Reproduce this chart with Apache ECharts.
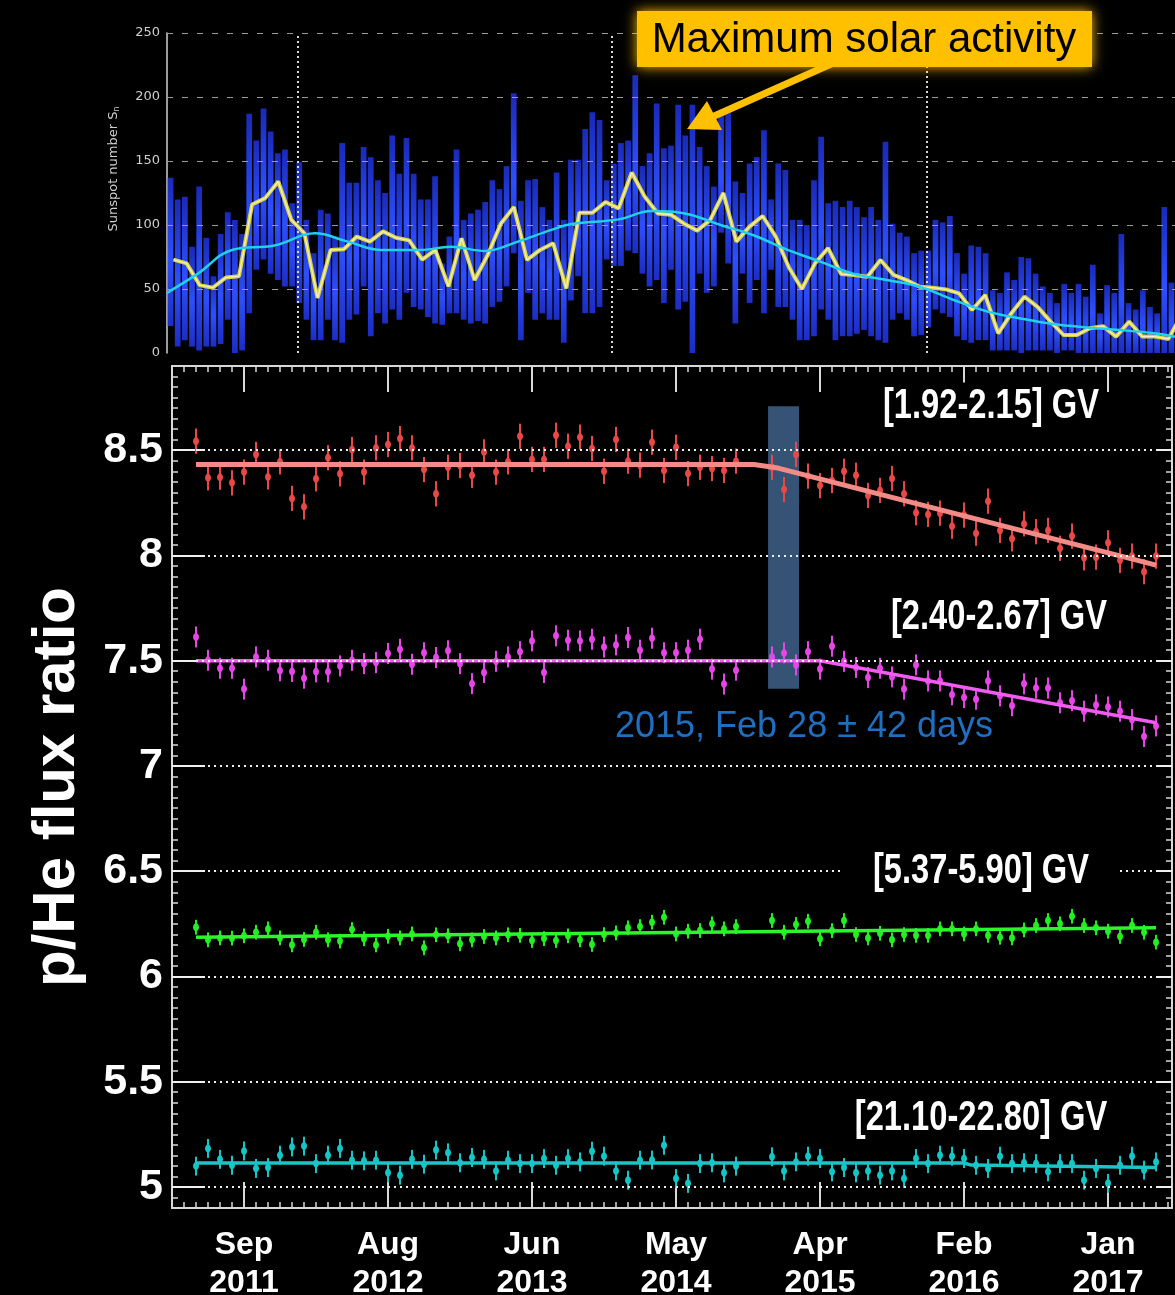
<!DOCTYPE html>
<html>
<head>
<meta charset="utf-8">
<script src="https://cdn.jsdelivr.net/npm/echarts@6/dist/echarts.min.js"></script>
<style>
  html, body { margin: 0; padding: 0; background: #000; }
  #chart { width: 1175px; height: 1295px; }
</style>
</head>
<body>
<div id="chart"></div>
<script>
// ---------- Sunspot panel (x in months since Jan 2011) ----------
const sunspotMonthStart = 2;            // first monthly value: March 2011
const sunspotMonthly = [
  73, 70, 53, 51, 59, 60, 116, 121, 134, 104,
  93.5, 43, 80.5, 81, 91, 87, 95, 90, 88, 73, 80.5, 52,
  89.6, 57, 76.6, 101, 114, 72.7, 80.5, 85.7, 50.5, 109.6, 109.6, 118,
  113, 141, 122, 109, 108, 101, 95.6, 104, 125, 87, 98.7, 107,
  91, 67, 50, 70, 82, 61.7, 61, 59.6, 72.7, 61, 57, 51.8,
  51, 49.7, 46.6, 33.6, 45.3, 15.4, 31, 44, 36, 24.5, 14, 14,
  19.3, 21, 12.8, 24.5, 12.8, 12.8, 11, 30
];
const smoothedMonth = [2.0, 4.36, 6.96, 10.2, 13.3, 15.8, 18.4, 21.3, 23.7, 26.3, 28.8, 31.3, 32.9, 36.5, 39.0, 40.7,
  42.0, 44.3, 46.8, 49.4, 51.9, 54.4, 57.0, 59.5, 62.1, 64.7, 67.2, 69.7, 72.3, 74.8, 77.4, 79.0];
const smoothedValue = [47, 62, 80.5, 84, 93.5, 87, 80.5, 80.5, 83, 79.7, 87, 96, 100.8, 104.4, 111, 110.4,
  108, 100, 92, 80.5, 71.4, 62, 57, 51.8, 41.4, 32.3, 27, 22.7, 20, 18, 15.4, 12.7];
// daily spread of the sunspot number, binned (~17 days per bin)
const sunspotBinStart = 2;
const sunspotBinWidth = 77 / 141;
const sunspotLow = [
  21, 5, 10, 5, 2, 5, 5, 7, 26, 0,
  2, 31, 65, 73, 62, 57, 52, 52, 39, 26,
  10, 10, 26, 10, 8, 26, 30, 52, 13, 31,
  23, 34, 26, 47, 36, 34, 28, 23, 22, 31,
  31, 26, 23, 25, 23, 36, 40, 52, 78, 10,
  47, 26, 31, 26, 26, 8, 41, 60, 31, 31,
  36, 73, 68, 68, 80, 78, 62, 52, 57, 39,
  65, 34, 40, 0, 62, 47, 52, 94, 70, 23,
  62, 39, 57, 31, 65, 36, 36, 26, 10, 10,
  13, 34, 26, 10, 13, 13, 15, 18, 13, 10,
  8, 26, 31, 26, 13, 14, 20, 34, 31, 28,
  13, 10, 8, 10, 10, 2, 2, 2, 2, 0,
  2, 2, 2, 2, 0, 2, 2, 0, 0, 0,
  0, 0, 0, 0, 0, 0, 0, 0, 0, 0,
  0
];
const sunspotHigh = [
  137, 120, 122, 83, 130, 90, 60, 93, 110, 104,
  93, 187, 166, 191, 173, 156, 159, 117, 149, 104,
  78, 112, 109, 91, 164, 133, 133, 161, 153, 135,
  125, 170, 140, 168, 140, 120, 120, 138, 70, 91,
  159, 104, 109, 112, 118, 135, 128, 146, 203, 119,
  135, 136, 114, 104, 141, 104, 151, 151, 175, 188,
  182, 135, 148, 164, 166, 217, 146, 156, 195, 160,
  162, 194, 170, 194, 161, 146, 130, 190, 188, 134,
  125, 148, 153, 174, 120, 148, 143, 104, 104, 100,
  135, 169, 117, 119, 114, 119, 114, 106, 114, 104,
  165, 101, 94, 91, 78, 80, 80, 104, 102, 107,
  78, 62, 84, 83, 78, 49, 47, 63, 57, 75,
  74, 62, 52, 47, 39, 54, 47, 54, 44, 69,
  31, 53, 47, 93, 39, 34, 49, 36, 31, 114,
  55
];
const sunspotYearMarks = [12, 36, 60];   // Jan 2012, Jan 2014, Jan 2016

// ---------- p/He panel (x in Bartels rotations) ----------
const rotations = [
  2426, 2427, 2428, 2429, 2430, 2431, 2432, 2433, 2434, 2435, 2436, 2437, 2438, 2439, 2440,
  2441, 2442, 2443, 2444, 2445, 2446, 2447, 2448, 2449, 2450, 2451, 2452, 2453, 2454, 2455,
  2456, 2457, 2458, 2459, 2460, 2461, 2462, 2463, 2464, 2465, 2466, 2467, 2468, 2469, 2470,
  2471, 2474, 2475, 2476, 2477, 2478, 2479, 2480, 2481, 2482, 2483, 2484, 2485, 2486, 2487,
  2488, 2489, 2490, 2491, 2492, 2493, 2494, 2495, 2496, 2497, 2498, 2499, 2500, 2501, 2502,
  2503, 2504, 2505, 2506
];
const ratio192 = [
  8.543, 8.369, 8.372, 8.345, 8.396, 8.480, 8.373, 8.445, 8.271, 8.231, 8.364, 8.464, 8.388, 8.503, 8.396,
  8.511, 8.527, 8.555, 8.511, 8.408, 8.293, 8.419, 8.427, 8.381, 8.492, 8.396, 8.445, 8.566, 8.456, 8.456,
  8.571, 8.519, 8.562, 8.508, 8.400, 8.551, 8.448, 8.429, 8.538, 8.404, 8.514, 8.389, 8.419, 8.413, 8.404,
  8.448, 8.419, 8.313, 8.480, 8.377, 8.332, 8.356, 8.400, 8.381, 8.285, 8.309, 8.366, 8.293, 8.203, 8.195,
  8.201, 8.139, 8.192, 8.106, 8.258, 8.119, 8.079, 8.150, 8.113, 8.119, 8.034, 8.092, 7.989, 7.992, 8.060,
  7.977, 7.997, 7.923, 7.997
];
const ratio240 = [
  7.613, 7.502, 7.464, 7.464, 7.365, 7.518, 7.502, 7.452, 7.449, 7.417, 7.447, 7.447, 7.475, 7.502, 7.486,
  7.491, 7.534, 7.554, 7.483, 7.538, 7.515, 7.547, 7.486, 7.391, 7.444, 7.497, 7.518, 7.543, 7.594, 7.444,
  7.618, 7.597, 7.594, 7.602, 7.565, 7.575, 7.610, 7.550, 7.607, 7.538, 7.538, 7.550, 7.602, 7.460, 7.389,
  7.455, 7.518, 7.537, 7.480, 7.543, 7.460, 7.569, 7.497, 7.468, 7.420, 7.464, 7.423, 7.365, 7.480, 7.404,
  7.404, 7.338, 7.325, 7.317, 7.404, 7.333, 7.286, 7.390, 7.370, 7.370, 7.300, 7.310, 7.260, 7.290, 7.280,
  7.260, 7.220, 7.140, 7.190
];
const ratio537 = [
  6.234, 6.174, 6.183, 6.182, 6.193, 6.210, 6.226, 6.183, 6.150, 6.176, 6.210, 6.174, 6.168, 6.223, 6.179,
  6.150, 6.191, 6.183, 6.202, 6.136, 6.198, 6.193, 6.155, 6.174, 6.190, 6.183, 6.198, 6.195, 6.171, 6.180,
  6.171, 6.193, 6.174, 6.152, 6.199, 6.207, 6.231, 6.237, 6.258, 6.281, 6.202, 6.215, 6.218, 6.250, 6.226,
  6.237, 6.266, 6.210, 6.247, 6.262, 6.179, 6.218, 6.266, 6.199, 6.183, 6.205, 6.174, 6.199, 6.195, 6.195,
  6.226, 6.226, 6.202, 6.226, 6.195, 6.186, 6.183, 6.221, 6.242, 6.266, 6.250, 6.286, 6.242, 6.231, 6.215,
  6.190, 6.242, 6.210, 6.163
];
const ratio2110 = [
  5.099, 5.183, 5.131, 5.103, 5.171, 5.088, 5.092, 5.151, 5.190, 5.194, 5.111, 5.151, 5.183, 5.127, 5.124,
  5.127, 5.067, 5.056, 5.131, 5.108, 5.175, 5.162, 5.115, 5.140, 5.131, 5.076, 5.127, 5.111, 5.111, 5.135,
  5.103, 5.135, 5.119, 5.170, 5.146, 5.076, 5.032, 5.127, 5.128, 5.198, 5.040, 5.017, 5.111, 5.115, 5.067,
  5.099, 5.143, 5.076, 5.119, 5.146, 5.135, 5.072, 5.092, 5.067, 5.076, 5.056, 5.076, 5.040, 5.135, 5.111,
  5.151, 5.146, 5.135, 5.103, 5.088, 5.146, 5.111, 5.115, 5.111, 5.072, 5.111, 5.111, 5.032, 5.088, 5.017,
  5.103, 5.146, 5.080, 5.119
];
// typical half-length of the error bars for each rigidity bin
const errors = { r192: 0.06, r240: 0.05, r537: 0.035, r2110: 0.045 };
// fitted trends: [rotation, ratio] break points
const fit192 = [[2426, 8.432], [2472.5, 8.432], [2474.5, 8.415], [2506, 7.954]];
const fit240 = [[2426, 7.5], [2478, 7.5], [2506, 7.205]];
const fit537 = [[2426, 6.186], [2506, 6.231]];
const fit2110 = [[2426, 5.114], [2490, 5.114], [2490.6, 5.104], [2506, 5.092]];
// time window of the break
const breakRotationFrom = 2473.67, breakRotationTo = 2476.25;
const breakRatioFrom = 7.367, breakRatioTo = 8.709;

const majorRotations = [2430, 2442, 2454, 2466, 2478, 2490, 2502];
const majorMonths = ['Sep', 'Aug', 'Jun', 'May', 'Apr', 'Feb', 'Jan'];
const majorYears = ['2011', '2012', '2013', '2014', '2015', '2016', '2017'];
const ratioTicks = [5, 5.5, 6, 6.5, 7, 7.5, 8, 8.5];
const sunspotTicks = [50, 100, 150, 200, 250];

const boldFamily = "'Liberation Sans', Arial, sans-serif";
const frame = '#d8d8d8';

const chart = echarts.init(document.getElementById('chart'), null, { renderer: 'canvas' });

const barFill = new echarts.graphic.LinearGradient(0, 0, 0, 1, [
  { offset: 0, color: '#1a2ab8' },
  { offset: 0.55, color: '#2e4fff' },
  { offset: 1, color: '#1c2dc4' }
]);

function spreadBars(params, api) {
  const x = api.value(0);
  const hi = api.coord([x, api.value(2)]);
  const lo = api.coord([x, api.value(1)]);
  const w = api.size([sunspotBinWidth, 0])[0] * 0.8;
  return {
    type: 'rect',
    shape: { x: hi[0] - w / 2, y: hi[1], width: w, height: lo[1] - hi[1] },
    style: { fill: barFill }
  };
}

function errorPoints(color) {
  return function (params, api) {
    const x = api.value(0), v = api.value(1), e = api.value(2);
    const c = api.coord([x, v]);
    const t = api.coord([x, v + e]);
    const b = api.coord([x, v - e]);
    return {
      type: 'group',
      children: [
        { type: 'line', shape: { x1: c[0], y1: t[1], x2: c[0], y2: b[1] }, style: { stroke: color, lineWidth: 2 } },
        { type: 'ellipse', shape: { cx: c[0], cy: c[1], rx: 3, ry: 4 }, style: { fill: color } }
      ]
    };
  };
}

function pointSeries(values, err, color) {
  return {
    type: 'custom', xAxisIndex: 1, yAxisIndex: 1, z: 3,
    renderItem: errorPoints(color),
    encode: { x: 0, y: 1 },
    data: values.map((v, i) => [rotations[i], v, err])
  };
}

function fitSeries(points, color, width) {
  return {
    type: 'line', xAxisIndex: 1, yAxisIndex: 1, z: 4,
    data: points, symbol: 'none', silent: true,
    lineStyle: { color: color, width: width }
  };
}

function binLabel(text, x, y, padX) {
  return {
    type: 'text', z: 100, x: x, y: y, scaleX: 0.76,
    style: {
      text: text, fill: '#fff', font: 'bold 43px ' + boldFamily,
      align: 'center', verticalAlign: 'middle', backgroundColor: '#000', padding: [2, padX]
    }
  };
}

const option = {
  backgroundColor: '#000',
  animation: false,
  grid: [
    { left: 167, right: 0, top: 33, height: 320, outerBoundsMode: 'none' },
    { left: 172, right: 3, top: 366, height: 842, outerBoundsMode: 'none' }
  ],
  xAxis: [
    { gridIndex: 0, type: 'value', min: 2, max: 79, show: false },
    {
      gridIndex: 1, type: 'value', position: 'bottom', min: 2424, max: 2507.33, interval: 1,
      axisLine: { show: true, onZero: false, lineStyle: { color: frame, width: 2 } },
      axisTick: { show: true, inside: true, length: 6, lineStyle: { color: frame, width: 1.5 } },
      axisLabel: { show: false }, splitLine: { show: false }
    },
    {
      gridIndex: 1, type: 'value', position: 'bottom', min: 2424, max: 2507.33,
      axisLine: { show: false, onZero: false },
      axisTick: { show: true, inside: true, length: 26, customValues: majorRotations, lineStyle: { color: frame, width: 2 } },
      axisLabel: {
        show: true, customValues: majorRotations, margin: 18,
        color: '#fff', fontWeight: 'bold', fontSize: 32, lineHeight: 38, fontFamily: boldFamily,
        formatter: v => {
          const i = majorRotations.indexOf(Math.round(v));
          return i < 0 ? '' : majorMonths[i] + '\n' + majorYears[i];
        }
      },
      splitLine: { show: false }
    },
    {
      gridIndex: 1, type: 'value', position: 'top', min: 2424, max: 2507.33, interval: 1,
      axisLine: { show: true, onZero: false, lineStyle: { color: frame, width: 2 } },
      axisTick: { show: true, inside: true, length: 6, lineStyle: { color: frame, width: 1.5 } },
      axisLabel: { show: false }, splitLine: { show: false }
    },
    {
      gridIndex: 1, type: 'value', position: 'top', min: 2424, max: 2507.33,
      axisLine: { show: false, onZero: false },
      axisTick: { show: true, inside: true, length: 26, customValues: majorRotations, lineStyle: { color: frame, width: 2 } },
      axisLabel: { show: false }, splitLine: { show: false }
    }
  ],
  yAxis: [
    {
      gridIndex: 0, type: 'value', min: 0, max: 250, interval: 50,
      axisLine: { show: true, lineStyle: { color: '#d0d0d0', width: 1.5 } },
      axisTick: { show: false },
      axisLabel: { color: '#cfcfcf', fontSize: 13, margin: 7, fontFamily: 'DejaVu Sans' },
      splitLine: { show: false },
      name: '{a|Sunspot number S}{b|n}', nameLocation: 'middle', nameGap: 46, nameRotate: 90,
      nameTextStyle: {
        color: '#cfcfcf', padding: [0, 0, 0, 48],
        rich: {
          a: { fontSize: 13, color: '#cfcfcf', fontFamily: 'DejaVu Sans' },
          b: { fontSize: 8, color: '#cfcfcf', fontFamily: 'DejaVu Sans', verticalAlign: 'bottom', padding: [6, 0, 0, 0] }
        }
      }
    },
    {
      gridIndex: 1, type: 'value', position: 'left', min: 4.9, max: 8.9, interval: 0.05,
      axisLine: { show: true, lineStyle: { color: frame, width: 2 } },
      axisTick: { show: true, inside: true, length: 6, lineStyle: { color: frame, width: 1.5 } },
      axisLabel: { show: false }, splitLine: { show: false }
    },
    {
      gridIndex: 1, type: 'value', position: 'left', min: 4.9, max: 8.9,
      axisLine: { show: false },
      axisTick: { show: true, inside: true, length: 33, customValues: ratioTicks, lineStyle: { color: '#f0f0f0', width: 2 } },
      axisLabel: {
        show: true, customValues: ratioTicks, margin: 9,
        color: '#fff', fontWeight: 'bold', fontSize: 43, fontFamily: boldFamily,
        formatter: v => String(Math.round(v * 10) / 10)
      },
      splitLine: { show: false },
      name: 'p/He flux ratio', nameLocation: 'middle', nameGap: 85, nameRotate: 90,
      nameTextStyle: { color: '#fff', fontSize: 60, fontWeight: 'bold', fontFamily: boldFamily }
    },
    {
      gridIndex: 1, type: 'value', position: 'right', min: 4.9, max: 8.9, interval: 0.05,
      axisLine: { show: true, lineStyle: { color: frame, width: 2 } },
      axisTick: { show: true, inside: true, length: 6, lineStyle: { color: frame, width: 1.5 } },
      axisLabel: { show: false }, splitLine: { show: false }
    },
    {
      gridIndex: 1, type: 'value', position: 'right', min: 4.9, max: 8.9,
      axisLine: { show: false },
      axisTick: { show: true, inside: true, length: 14, customValues: ratioTicks, lineStyle: { color: '#f0f0f0', width: 2 } },
      axisLabel: { show: false }, splitLine: { show: false }
    }
  ],
  series: [
    // sunspot spread
    {
      type: 'custom', xAxisIndex: 0, yAxisIndex: 0, z: 2,
      renderItem: spreadBars,
      encode: { x: 0, y: [1, 2] },
      data: sunspotLow.map((lo, i) => [sunspotBinStart + (i + 0.5) * sunspotBinWidth, lo, sunspotHigh[i]])
    },
    // sunspot grid lines
    {
      type: 'line', xAxisIndex: 0, yAxisIndex: 0, z: 3, data: [], silent: true,
      markLine: {
        silent: true, symbol: 'none', label: { show: false },
        data: sunspotTicks.map(v => ({ yAxis: v, lineStyle: { color: '#9a9a9a', width: 1, type: [6, 9] } }))
          .concat(sunspotYearMarks.map(m => ({ xAxis: m, lineStyle: { color: '#d8d8d8', width: 2, type: [2, 3] } })))
      }
    },
    // monthly sunspot number
    {
      type: 'line', xAxisIndex: 0, yAxisIndex: 0, z: 5, symbol: 'none', silent: true,
      data: sunspotMonthly.map((v, i) => [sunspotMonthStart + i + 0.5, v]),
      lineStyle: { color: '#d9d244', width: 4 }
    },
    {
      type: 'line', xAxisIndex: 0, yAxisIndex: 0, z: 6, symbol: 'none', silent: true,
      data: sunspotMonthly.map((v, i) => [sunspotMonthStart + i + 0.5, v]),
      lineStyle: { color: '#f2f0c0', width: 1.3 }
    },
    // smoothed sunspot number
    {
      type: 'line', xAxisIndex: 0, yAxisIndex: 0, z: 7, symbol: 'none', silent: true, smooth: 0.4,
      data: smoothedMonth.map((m, i) => [m, smoothedValue[i]]),
      lineStyle: { color: '#1fd2ea', width: 2.5 }
    },
    // p/He dotted reference lines
    {
      type: 'line', xAxisIndex: 1, yAxisIndex: 1, z: 1, data: [], silent: true,
      markLine: {
        silent: true, symbol: 'none', label: { show: false },
        lineStyle: { color: '#eeeeee', width: 2, type: [2, 4] },
        data: ratioTicks.map(v => ({ yAxis: v }))
      }
    },
    pointSeries(ratio192, errors.r192, '#e84848'),
    pointSeries(ratio240, errors.r240, '#e646e6'),
    pointSeries(ratio537, errors.r537, '#22ee22'),
    pointSeries(ratio2110, errors.r2110, '#14c6c6'),
    fitSeries(fit192, '#f28a86', 5),
    fitSeries(fit240, '#ef5cef', 3.5),
    fitSeries(fit537, '#2bf52b', 3.5),
    fitSeries(fit2110, '#1cc4c8', 3.5),
    // change-point window
    {
      type: 'line', xAxisIndex: 1, yAxisIndex: 1, z: 10, data: [], silent: true,
      markArea: {
        silent: true,
        itemStyle: { color: 'rgba(66,104,146,0.8)' },
        data: [[{ xAxis: breakRotationFrom, yAxis: breakRatioFrom }, { xAxis: breakRotationTo, yAxis: breakRatioTo }]]
      }
    }
  ],
  graphic: [
    // annotation box
    {
      type: 'rect', z: 100, shape: { x: 637, y: 11, width: 455, height: 56 },
      style: { fill: '#ffc000', shadowBlur: 12, shadowColor: '#ffc000' }
    },
    {
      type: 'text', z: 101, x: 864, y: 40,
      style: { text: 'Maximum solar activity', fill: '#000', font: "42px 'Liberation Sans', Arial, sans-serif", align: 'center', verticalAlign: 'middle' }
    },
    {
      type: 'line', z: 100, shape: { x1: 840, y1: 60, x2: 712, y2: 117 },
      style: { stroke: '#ffc000', lineWidth: 7 }
    },
    {
      type: 'polygon', z: 100, shape: { points: [[687, 129], [722, 130], [707, 101]] },
      style: { fill: '#ffc000' }
    },
    // rigidity bin labels
    binLabel('[1.92-2.15] GV', 991, 406, 8),
    binLabel('[2.40-2.67] GV', 999, 617, 8),
    binLabel('[5.37-5.90] GV', 981, 871, 40),
    binLabel('[21.10-22.80] GV', 981, 1118, 8),
    {
      type: 'text', z: 100, x: 804, y: 727,
      style: { text: '2015, Feb 28 \u00b1 42 days', fill: '#1f6fc0', font: "36px 'Liberation Sans', Arial, sans-serif", align: 'center', verticalAlign: 'middle' }
    }
  ]
};

chart.setOption(option);
</script>
</body>
</html>
